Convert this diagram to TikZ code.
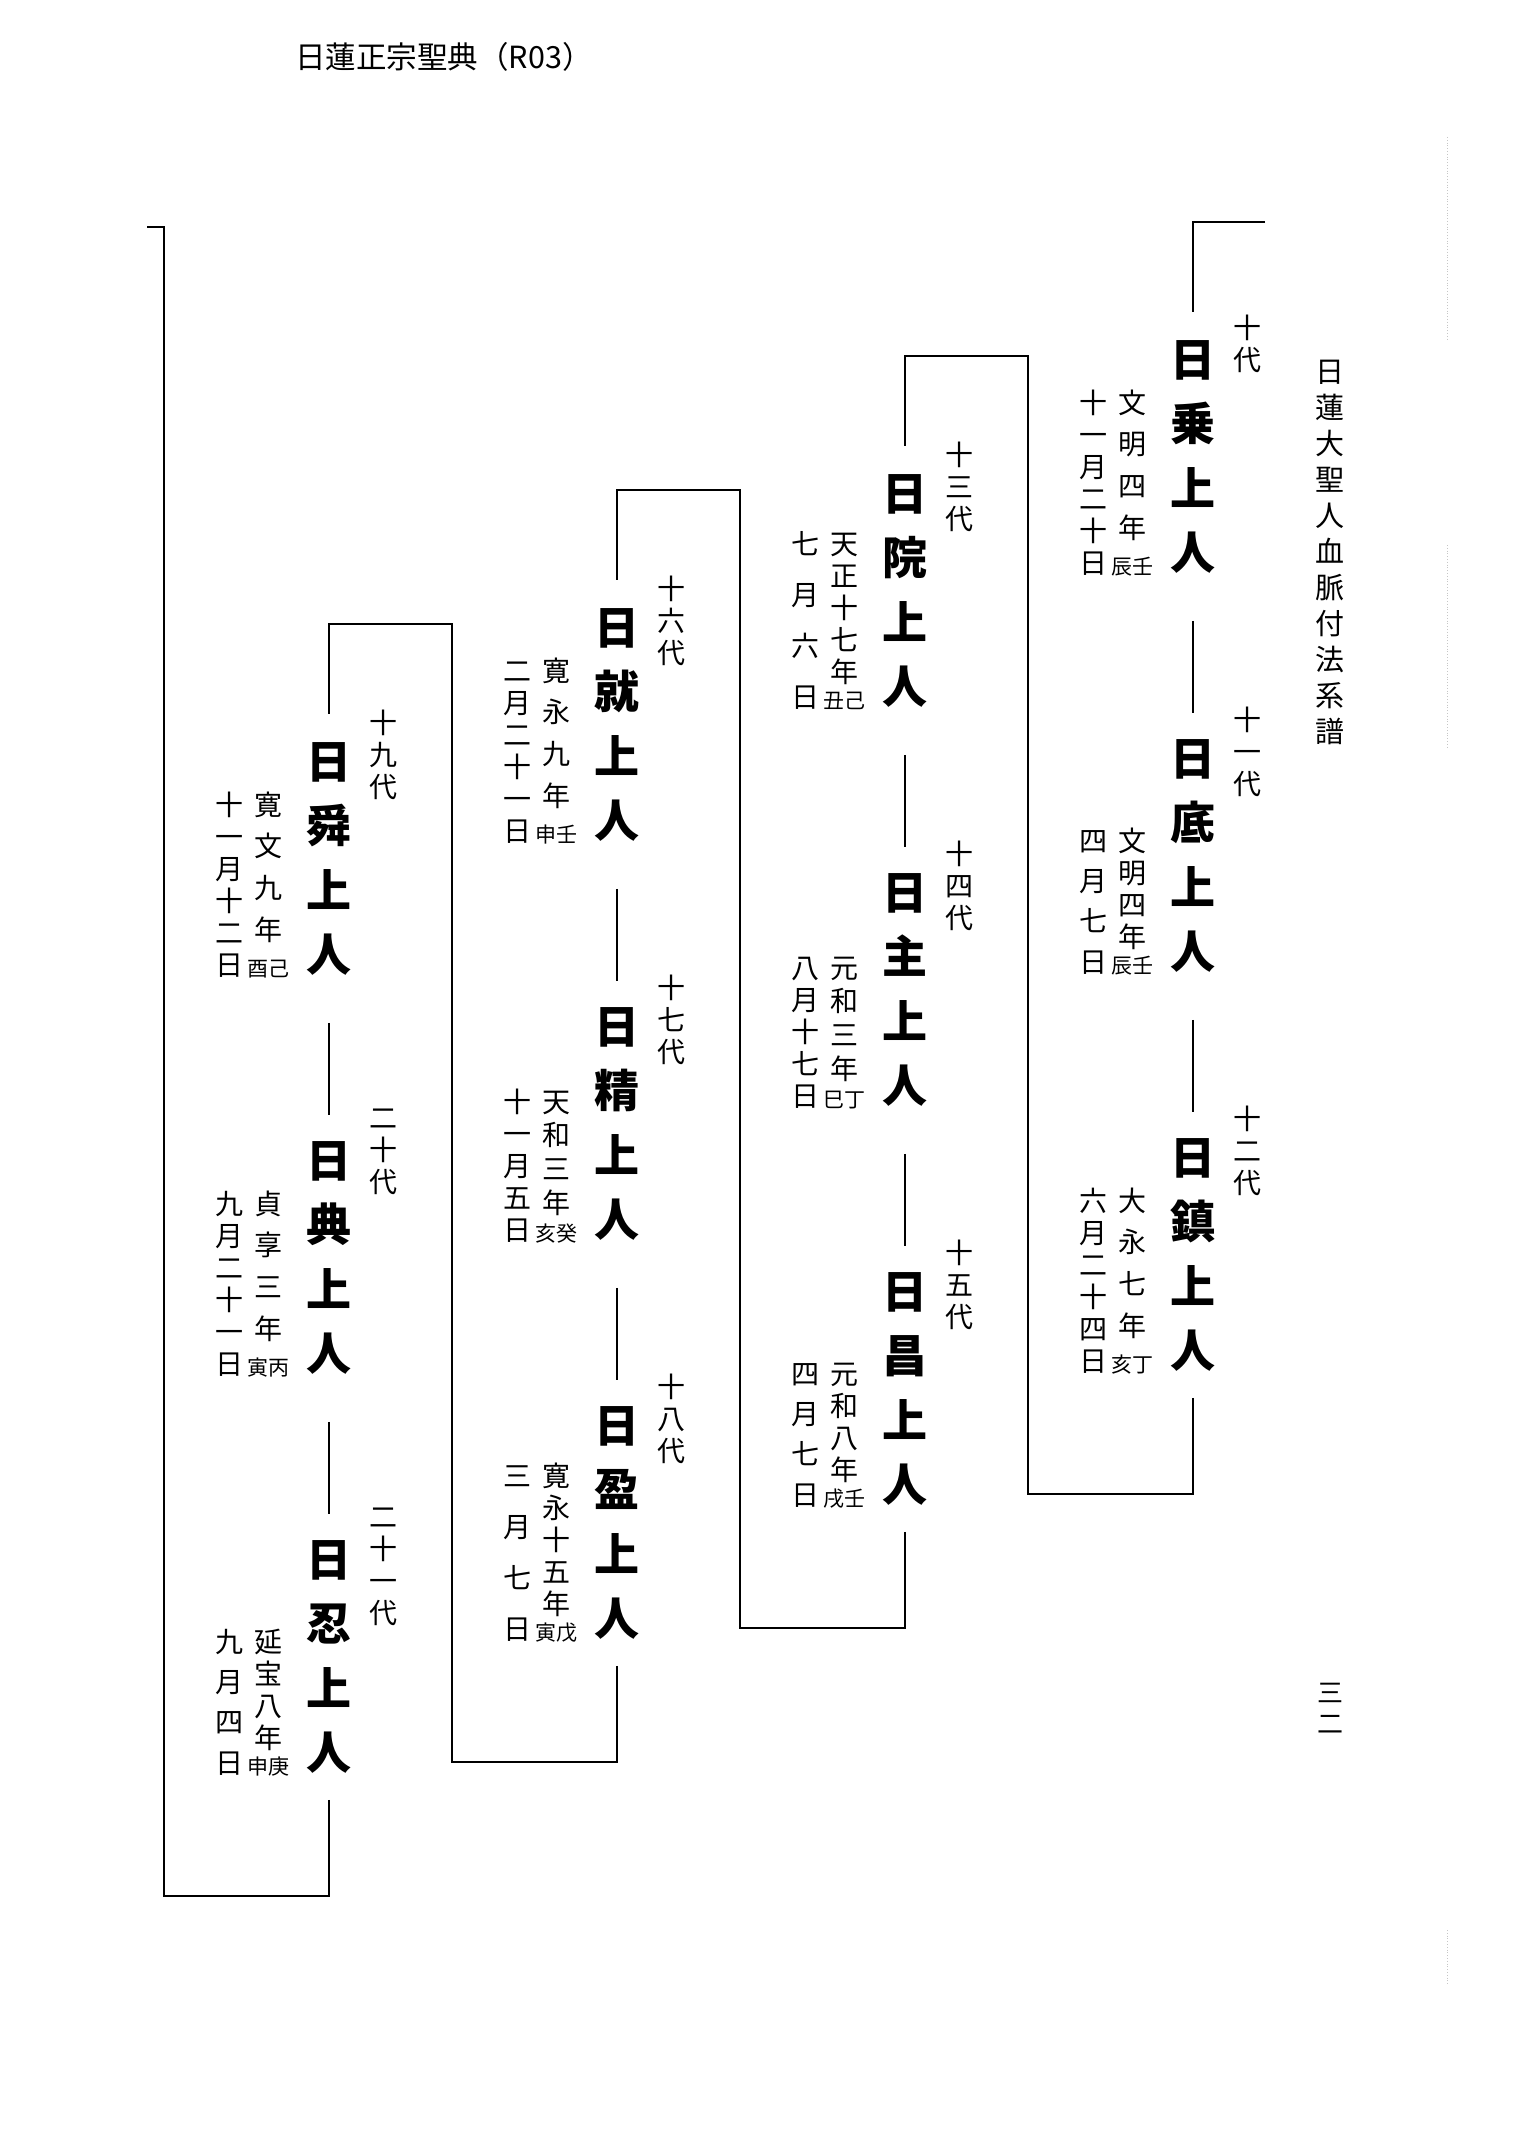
\documentclass[tikz,border=0pt]{standalone}
\usepackage{fontspec}
\newfontfamily\cjk{Noto Sans CJK JP}
\tikzset{jname/.style={font={\cjk\bfseries\fontsize{45}{64.5}\selectfont},
align=center, inner sep=0pt, anchor=north},
gen/.style={font={\cjk\fontsize{28}{32}\selectfont}, align=center, inner sep=0pt, anchor=north},
dchar/.style={font={\cjk\fontsize{28}{28}\selectfont}, inner sep=0pt, text height=24pt, text depth=4pt},
pchar/.style={font={\cjk\fontsize{21}{21}\selectfont}, inner sep=0pt, text height=18pt, text depth=3pt},
link/.style={line width=2.6pt}}
\newcommand\datenote[8]{%
\pgfmathsetmacro\spanR{21+#4*32}%
\pgfmathsetmacro\spanL{(#7-1)*32+28}%
\pgfmathsetmacro\spanS{max(\spanR,\spanL)}%
\pgfmathsetmacro\pitchR{(\spanS-21)/#4}%
\pgfmathsetmacro\pitchL{(\spanS-28)/(#7-1)}%
\pgfmathsetmacro\noteTop{#3+237-\spanS}%
\foreach \c [count=\i] in {#5}
	\node[dchar] (#1r\i) at (#2-61, \noteTop+14+\i*\pitchR-\pitchR) {\c};
\node[pchar] (#1p) at (#2-61, #3+227) {#6};
\foreach \c [count=\i] in {#8}
	\node[dchar] (#1l\i) at (#2-100, \noteTop+14+\i*\pitchL-\pitchL) {\c};
}
\begin{document}
\begin{tikzpicture}[x=1pt, y=-1pt, vtext/.style={font={\cjk\fontsize{29}{36}\selectfont}, align=center, inner sep=0pt, anchor=north},
	scan/.style={gray!45, dotted, line width=0.8pt}]
	\useasboundingbox (0,0) rectangle (1516,2140);
	\node[font={\cjk\fontsize{30.5}{30.5}\selectfont}, inner sep=0pt] (head) at (444,57) {日蓮正宗聖典（R03）};
	\node[vtext] (title) at (1330,360) {日\\蓮\\大\\聖\\人\\血\\脈\\付\\法\\系\\譜};
	\node[vtext, font={\cjk\fontsize{26}{31}\selectfont}] (page) at (1330,1683) {三\\二};
	\draw[scan] (1447,137) -- (1447,340);
	\draw[scan] (1447,545) -- (1447,748);
	\draw[scan] (1447,1930) -- (1447,1985);

	\node[jname] (n10) at (1193,340) {日\\乗\\上\\人};
	\node[jname] (n11) at (1193,739) {日\\底\\上\\人};
	\node[jname] (n12) at (1193,1138) {日\\鎮\\上\\人};
	\node[jname] (n13) at (905,474) {日\\院\\上\\人};
	\node[jname] (n14) at (905,873) {日\\主\\上\\人};
	\node[jname] (n15) at (905,1272) {日\\昌\\上\\人};
	\node[jname] (n16) at (617,608) {日\\就\\上\\人};
	\node[jname] (n17) at (617,1007) {日\\精\\上\\人};
	\node[jname] (n18) at (617,1406) {日\\盈\\上\\人};
	\node[jname] (n19) at (329,742) {日\\舜\\上\\人};
	\node[jname] (n20) at (329,1141) {日\\典\\上\\人};
	\node[jname] (n21) at (329,1540) {日\\忍\\上\\人};

	\node[gen] (g10) at (1247,315) {十\\代};
	\node[gen] (g11) at (1247,707) {十\\一\\代};
	\node[gen] (g12) at (1247,1106) {十\\二\\代};
	\node[gen] (g13) at (959,442) {十\\三\\代};
	\node[gen] (g14) at (959,841) {十\\四\\代};
	\node[gen] (g15) at (959,1240) {十\\五\\代};
	\node[gen] (g16) at (671,576) {十\\六\\代};
	\node[gen] (g17) at (671,975) {十\\七\\代};
	\node[gen] (g18) at (671,1374) {十\\八\\代};
	\node[gen] (g19) at (383,710) {十\\九\\代};
	\node[gen] (g20) at (383,1109) {二\\十\\代};
	\node[gen] (g21) at (383,1508) {二\\十\\一\\代};

	\datenote{n10}{1193}{340}{4}{文,明,四,年}{辰壬}{6}{十,一,月,二,十,日}
	\datenote{n11}{1193}{739}{4}{文,明,四,年}{辰壬}{4}{四,月,七,日}
	\datenote{n12}{1193}{1138}{4}{大,永,七,年}{亥丁}{6}{六,月,二,十,四,日}
	\datenote{n13}{905}{474}{5}{天,正,十,七,年}{丑己}{4}{七,月,六,日}
	\datenote{n14}{905}{873}{4}{元,和,三,年}{巳丁}{5}{八,月,十,七,日}
	\datenote{n15}{905}{1272}{4}{元,和,八,年}{戌壬}{4}{四,月,七,日}
	\datenote{n16}{617}{608}{4}{寛,永,九,年}{申壬}{6}{二,月,二,十,一,日}
	\datenote{n17}{617}{1007}{4}{天,和,三,年}{亥癸}{5}{十,一,月,五,日}
	\datenote{n18}{617}{1406}{5}{寛,永,十,五,年}{寅戊}{4}{三,月,七,日}
	\datenote{n19}{329}{742}{4}{寛,文,九,年}{酉己}{6}{十,一,月,十,二,日}
	\datenote{n20}{329}{1141}{4}{貞,享,三,年}{寅丙}{6}{九,月,二,十,一,日}
	\datenote{n21}{329}{1540}{4}{延,宝,八,年}{申庚}{4}{九,月,四,日}

	\coordinate (in) at (1265,222);
	\coordinate (out) at (147,227);
	\draw[link] (in) -| ([yshift=28pt]n10.north);
	\draw[link] ([yshift=-47pt]n10.south) -- ([yshift=26pt]n11.north);
	\draw[link] ([yshift=-47pt]n11.south) -- ([yshift=26pt]n12.north);
	\draw[link] ([yshift=-26pt]n12.south) -- (n12.south |- 0,1494) -| (1028,356) -| ([yshift=28pt]n13.north);
	\draw[link] ([yshift=-47pt]n13.south) -- ([yshift=26pt]n14.north);
	\draw[link] ([yshift=-47pt]n14.south) -- ([yshift=26pt]n15.north);
	\draw[link] ([yshift=-26pt]n15.south) -- (n15.south |- 0,1628) -| (740,490) -| ([yshift=28pt]n16.north);
	\draw[link] ([yshift=-47pt]n16.south) -- ([yshift=26pt]n17.north);
	\draw[link] ([yshift=-47pt]n17.south) -- ([yshift=26pt]n18.north);
	\draw[link] ([yshift=-26pt]n18.south) -- (n18.south |- 0,1762) -| (452,624) -| ([yshift=28pt]n19.north);
	\draw[link] ([yshift=-47pt]n19.south) -- ([yshift=26pt]n20.north);
	\draw[link] ([yshift=-47pt]n20.south) -- ([yshift=26pt]n21.north);
	\draw[link] ([yshift=-26pt]n21.south) -- (n21.south |- 0,1896) -| (164,227) -- (out);
\end{tikzpicture}
\end{document}
